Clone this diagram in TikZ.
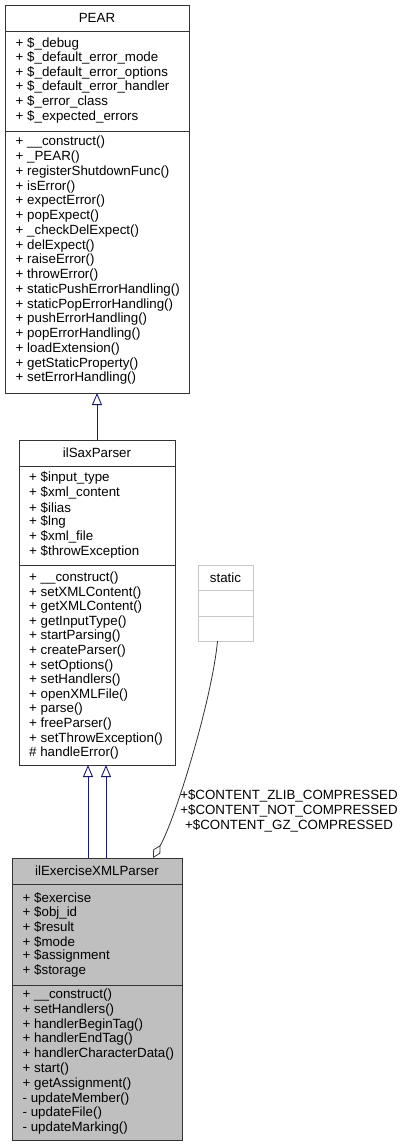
\documentclass[tikz,border=0pt]{standalone}
\usepackage{fontspec}
\setmainfont{Liberation Sans}
\usetikzlibrary{arrows.meta}

\definecolor{edgeblue}{HTML}{191970}
\definecolor{boxgray}{HTML}{BFBFBF}
\definecolor{staticframe}{HTML}{C8C8C8}

\begin{document}
\begin{tikzpicture}[x=1pt,y=-1pt,font=\fontsize{13.33}{15}\selectfont,
  classbox/.style={draw=black!80,line width=0.9pt,inner sep=0pt,outer sep=0pt,anchor=north west},
  sepline/.style={draw=black!80,line width=0.9pt},
  classname/.style={inner sep=0pt,anchor=center},
  member/.style={inner sep=0pt,anchor=west},
  inherit/.style={edgeblue,line width=0.9pt,-{Triangle[open,length=12pt,width=10pt]}},
  aggr/.style={black!80,line width=0.8pt,-{Diamond[open,length=15pt,width=8pt]}}]
  \useasboundingbox (0,0) rectangle (405,1147);

  % PEAR
  \node[classbox,minimum width=184pt,minimum height=388pt] (pear) at (5,5) {};
  \draw[sepline] (5,31) -- (189,31);
  \draw[sepline] (5,131) -- (189,131);
  \node[classname] (pear-name) at (97,18) {PEAR};
  \foreach \txt [count=\i from 0] in {+ \$\_debug, + \$\_default\_error\_mode,
      + \$\_default\_error\_options, + \$\_default\_error\_handler,
      + \$\_error\_class, + \$\_expected\_errors}
    \node[member] (pear-a\i) at (15.5,43.5+14.6*\i) {\txt};
  \foreach \txt [count=\i from 0] in {+ \_\_construct(), + \_PEAR(), + registerShutdownFunc(),
      + isError(), + expectError(), + popExpect(), + \_checkDelExpect(), + delExpect(),
      + raiseError(), + throwError(), + staticPushErrorHandling(), + staticPopErrorHandling(),
      + pushErrorHandling(), + popErrorHandling(), + loadExtension(),
      + getStaticProperty(), + setErrorHandling()}
    \node[member] (pear-m\i) at (15.5,142.5+14.75*\i) {\txt};

  % ilSaxParser
  \node[classbox,minimum width=156pt,minimum height=325pt] (ilsax) at (19,440) {};
  \draw[sepline] (19,466) -- (175,466);
  \draw[sepline] (19,565) -- (175,565);
  \node[classname] (ilsax-name) at (97,453) {ilSaxParser};
  \foreach \txt [count=\i from 0] in {+ \$input\_type, + \$xml\_content, + \$ilias,
      + \$lng, + \$xml\_file, + \$throwException}
    \node[member] (ilsax-a\i) at (29,478+14.8*\i) {\txt};
  \foreach \txt [count=\i from 0] in {+ \_\_construct(), + setXMLContent(), + getXMLContent(),
      + getInputType(), + startParsing(), + createParser(), + setOptions(),
      + setHandlers(), + openXMLFile(), + parse(), + freeParser(),
      + setThrowException(), \# handleError()}
    \node[member] (ilsax-m\i) at (29,578+14.6*\i) {\txt};

  % static
  \node[classbox,draw=staticframe,minimum width=55pt,minimum height=76pt] (static) at (198,565) {};
  \draw[sepline,staticframe] (198,590) -- (253,590);
  \draw[sepline,staticframe] (198,616) -- (253,616);
  \node[classname] (static-name) at (225.5,577.5) {static};

  % ilExerciseXMLParser
  \node[classbox,fill=boxgray,minimum width=170pt,minimum height=282pt] (exer) at (12,858) {};
  \draw[sepline] (12,884) -- (182,884);
  \draw[sepline] (12,985) -- (182,985);
  \node[classname] (exer-name) at (97,871) {ilExerciseXMLParser};
  \foreach \txt [count=\i from 0] in {+ \$exercise, + \$obj\_id, + \$result,
      + \$mode, + \$assignment, + \$storage}
    \node[member] (exer-a\i) at (22.5,898+14.6*\i) {\txt};
  \foreach \txt [count=\i from 0] in {+ \_\_construct(), + setHandlers(), + handlerBeginTag(),
      + handlerEndTag(), + handlerCharacterData(), + start(), + getAssignment(),
      - updateMember(), - updateFile(), - updateMarking()}
    \node[member] (exer-m\i) at (22.5,995+14.8*\i) {\txt};

  % edges
  \draw[inherit] (ilsax.north) -- (pear.south);
  \draw[inherit] ([xshift=-9pt]exer.north) -- ([xshift=-9pt]ilsax.south);
  \draw[inherit] ([xshift=9pt]exer.north) -- ([xshift=9pt]ilsax.south);
  \draw[aggr] ([xshift=-8pt]static.south) .. controls (212,700) and (175,820) .. ([xshift=56pt]exer.north);
  \node[inner sep=0pt,align=center] (aggr-label) at (289,811)
    {+\$CONTENT\_ZLIB\_COMPRESSED\\+\$CONTENT\_NOT\_COMPRESSED\\+\$CONTENT\_GZ\_COMPRESSED};
\end{tikzpicture}
\end{document}
